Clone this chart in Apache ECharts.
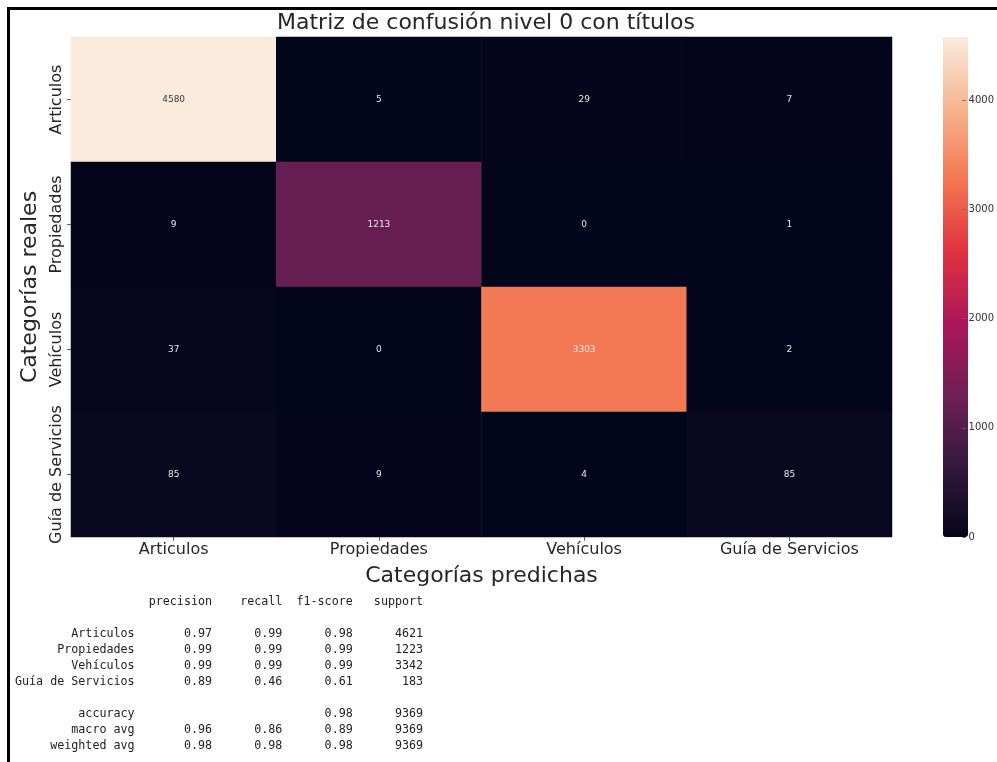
<!DOCTYPE html>
<html>
<head>
<meta charset="utf-8">
<title>Matriz de confusión</title>
<script src="https://cdn.jsdelivr.net/npm/echarts@6/dist/echarts.min.js"></script>
<style>
  html, body { margin: 0; padding: 0; background: #fff; }
  #main { width: 997px; height: 762px; }
</style>
</head>
<body>
<div id="main"></div>
<script>
// categorias (filas = reales, columnas = predichas)
var categorias = ['Articulos', 'Propiedades', 'Vehículos', 'Guía de Servicios'];
var filaArticulos = [4580, 5, 29, 7];
var filaPropiedades = [9, 1213, 0, 1];
var filaVehiculos = [37, 0, 3303, 2];
var filaGuia = [85, 9, 4, 85];
var colorbarTicks = [0, 1000, 2000, 3000, 4000];

// reporte de clasificacion
var reporteNombres = ['Articulos', 'Propiedades', 'Vehículos', 'Guía de Servicios'];
var precision = [0.97, 0.99, 0.99, 0.89];
var recall = [0.99, 0.99, 0.99, 0.46];
var f1 = [0.98, 0.99, 0.99, 0.61];
var support = [4621, 1223, 3342, 183];
var accuracy = [0.98, 9369];
var macroAvg = [0.96, 0.86, 0.89, 9369];
var weightedAvg = [0.98, 0.98, 0.98, 9369];

// paleta rocket
var rocket = ['#03051a', '#35193e', '#701f57', '#ad1759', '#e13342', '#f37651', '#f6b48f', '#faebdd'];

var filas = [filaArticulos, filaPropiedades, filaVehiculos, filaGuia];
var maxValor = 0;
filas.forEach(function (f) { f.forEach(function (v) { if (v > maxValor) maxValor = v; }); });

var datos = [];
filas.forEach(function (fila, y) {
    fila.forEach(function (v, x) {
        datos.push({
            value: [x, y, v],
            label: { color: v > maxValor * 0.8 ? '#3a3a3a' : '#e8e8e8' }
        });
    });
});

// texto del reporte, como el de sklearn
var ancho = 17;
function pad(s, n) { s = String(s); while (s.length < n) s = ' ' + s; return s; }
function num(v) { return pad(v.toFixed(2), 9); }
var lineas = [];
lineas.push(pad('', ancho) + ' ' + ' ' + pad('precision', 9) + ' ' + pad('recall', 9) + ' ' + pad('f1-score', 9) + ' ' + pad('support', 9));
lineas.push('');
reporteNombres.forEach(function (n, i) {
    lineas.push(pad(n, ancho) + ' ' + ' ' + num(precision[i]) + ' ' + num(recall[i]) + ' ' + num(f1[i]) + ' ' + pad(support[i], 9));
});
lineas.push('');
lineas.push(pad('accuracy', ancho) + ' ' + ' ' + pad('', 9) + ' ' + pad('', 9) + ' ' + num(accuracy[0]) + ' ' + pad(accuracy[1], 9));
lineas.push(pad('macro avg', ancho) + ' ' + ' ' + num(macroAvg[0]) + ' ' + num(macroAvg[1]) + ' ' + num(macroAvg[2]) + ' ' + pad(macroAvg[3], 9));
lineas.push(pad('weighted avg', ancho) + ' ' + ' ' + num(weightedAvg[0]) + ' ' + num(weightedAvg[1]) + ' ' + num(weightedAvg[2]) + ' ' + pad(weightedAvg[3], 9));

var e = echarts.init(document.getElementById('main'));
var fuente = 'DejaVu Sans';
var option = {
    backgroundColor: '#fff',
    animation: false,
    title: {
        text: 'Matriz de confusión nivel 0 con títulos',
        left: 481,
        top: 7,
        textAlign: 'center',
        textStyle: { fontFamily: fuente, fontSize: 22, fontWeight: 'normal', color: '#262626' }
    },
    grid: [
        { left: 71, top: 37, width: 821, height: 500 },
        { left: 943, top: 37, width: 25, height: 500 }
    ],
    xAxis: [
        {
            type: 'category',
            gridIndex: 0,
            data: categorias,
            name: 'Categorías predichas',
            nameLocation: 'middle',
            nameGap: 28,
            nameTextStyle: { fontFamily: fuente, fontSize: 22, color: '#262626', verticalAlign: 'top' },
            axisLine: { show: false },
            axisTick: { show: true, alignWithLabel: true, length: 4, lineStyle: { color: '#666' } },
            axisLabel: { interval: 0, fontFamily: fuente, fontSize: 16, color: '#262626', margin: 5 },
            splitLine: { show: false }
        },
        {
            type: 'category',
            gridIndex: 1,
            data: [''],
            show: false
        }
    ],
    yAxis: [
        {
            type: 'category',
            gridIndex: 0,
            data: categorias,
            inverse: true,
            name: 'Categorías reales',
            nameLocation: 'middle',
            nameGap: 25,
            nameTextStyle: { fontFamily: fuente, fontSize: 22, color: '#262626' },
            axisLine: { show: false },
            axisTick: { show: true, alignWithLabel: true, length: 4, lineStyle: { color: '#666' } },
            axisLabel: { interval: 0, fontFamily: fuente, fontSize: 16, color: '#262626', rotate: 90, margin: 6 },
            splitLine: { show: false }
        },
        {
            type: 'value',
            gridIndex: 1,
            min: 0,
            max: maxValor,
            position: 'right',
            z: 10,
            axisLine: { show: false },
            axisTick: { show: true, length: 3, customValues: colorbarTicks, lineStyle: { color: '#666' } },
            axisLabel: {
                fontFamily: fuente, fontSize: 10, color: '#333', margin: 6,
                customValues: colorbarTicks,
                formatter: function (v) { return String(v); }
            },
            splitLine: { show: false }
        }
    ],
    visualMap: {
        type: 'continuous',
        min: 0,
        max: maxValor,
        seriesIndex: 0,
        calculable: false,
        hoverLink: false,
        left: 943,
        top: 37,
        padding: 0,
        itemWidth: 25,
        itemHeight: 500,
        text: null,
        showLabel: false,
        z: 1,
        inRange: { color: rocket }
    },
    graphic: [
        {
            type: 'text',
            left: 15,
            top: 594,
            style: {
                text: lineas.join('\n'),
                font: '11.7px "DejaVu Sans Mono"',
                lineHeight: 16,
                fill: '#222'
            }
        },
        {
            type: 'line',
            shape: { x1: 8, y1: 8.5, x2: 997, y2: 8.5 },
            style: { stroke: '#000', lineWidth: 3 }
        },
        {
            type: 'line',
            shape: { x1: 8.5, y1: 7, x2: 8.5, y2: 762 },
            style: { stroke: '#000', lineWidth: 3 }
        }
    ],
    series: [
        {
            name: 'confusion',
            type: 'heatmap',
            xAxisIndex: 0,
            yAxisIndex: 0,
            data: datos,
            label: { show: true, fontFamily: fuente, fontSize: 9 },
            itemStyle: { borderWidth: 0 },
            emphasis: { disabled: true }
        }
    ]
};
e.setOption(option);
</script>
</body>
</html>
